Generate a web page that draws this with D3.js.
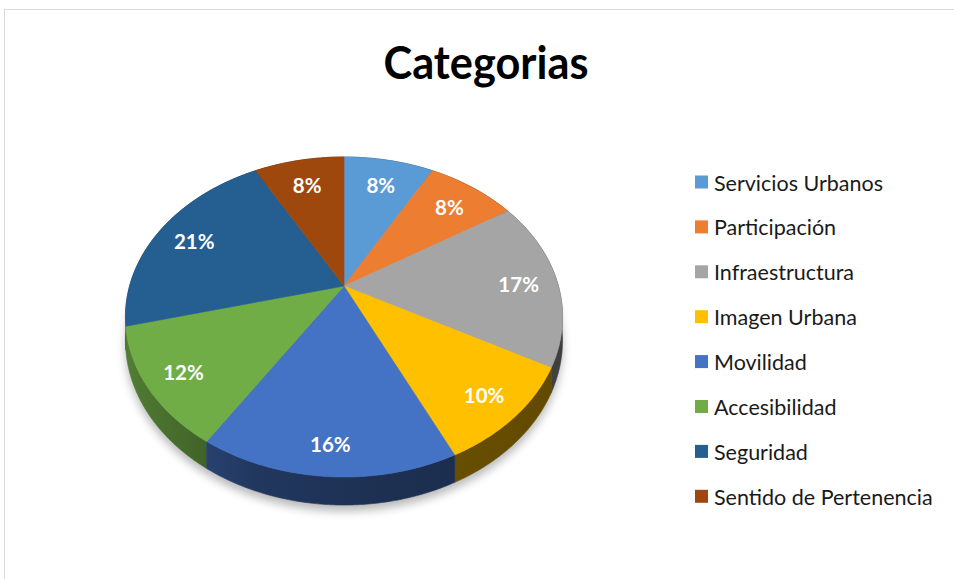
<!DOCTYPE html>
<html><head><meta charset="utf-8">
<script src="https://cdn.jsdelivr.net/npm/d3@7"></script>
<style>html,body{margin:0;padding:0;background:#fff;}svg{display:block;}</style>
</head><body>
<svg id="c" width="954" height="579"></svg>
<script>
const categories = ["Servicios Urbanos","Participación","Infraestructura","Imagen Urbana","Movilidad","Accesibilidad","Seguridad","Sentido de Pertenencia"];
const values = [8, 8, 17, 10, 16, 12, 21, 8];
const colors = ["#5B9BD5","#ED7D31","#A5A5A5","#FFC000","#4472C4","#70AD47","#255E91","#9E480E"];
const title = "Categorias";

const W = 954, H = 579;
const svg = d3.select("#c");

// frame
svg.append("rect").attr("x",4.5).attr("y",9.5).attr("width",980).attr("height",600)
  .attr("fill","#fff").attr("stroke","#d9d9d9").attr("stroke-width",1);

svg.append("text").attr("x",486).attr("y",79).attr("text-anchor","middle")
  .attr("font-family","Lato, 'Open Sans', sans-serif").attr("font-weight","bold")
  .attr("font-size",45).attr("fill","#000").attr("textLength",205).attr("lengthAdjust","spacingAndGlyphs")
  .text(title);

// perspective projection of the pie disk
const cx = 344, cy = 286, A = 214.4, B = 154, k = 0.1937, dep = 22.6;
function proj(theta, r, h) {
  const u = r * Math.sin(theta), v = -r * Math.cos(theta);
  const w = 1 - k * v;
  return [cx + A * u / w, cy + (B * v + h) / w];
}
const pie = d3.pie().sort(null).value(d => d)(values);
const line = d3.line();
function arcPts(a0, a1, h) {
  const n = Math.max(2, Math.ceil((a1 - a0) / 0.01));
  return d3.range(n + 1).map(i => proj(a0 + (a1 - a0) * i / n, 1, h));
}

const defs = svg.append("defs");
const blur = defs.append("filter").attr("id","sh").attr("x","-20%").attr("y","-20%").attr("width","140%").attr("height","140%");
blur.append("feGaussianBlur").attr("stdDeviation",5);

// shadow
const full = arcPts(0, 2*Math.PI, dep);
svg.append("path").attr("d", line(full) + "Z").attr("fill","#000").attr("opacity",0.28)
  .attr("filter","url(#sh)").attr("transform","translate(0,6)");

// side gradients
pie.forEach((d, i) => {
  const c = d3.rgb(colors[i]);
  const g = defs.append("linearGradient").attr("id","sg"+i).attr("gradientUnits","userSpaceOnUse")
    .attr("x1", cx - A*1.02).attr("x2", cx + A*1.02).attr("y1",0).attr("y2",0);
  [[0,0.72],[0.3,0.48],[0.6,0.42],[1,0.38]].forEach(([o,f]) => {
    g.append("stop").attr("offset", o).attr("stop-color", d3.rgb(c.r*f, c.g*f, c.b*f).formatHex());
  });
});

// walls, back to front
const gW = svg.append("g");
const order = pie.map((d,i)=>i).sort((a,b)=>{
  const ma = (pie[a].startAngle+pie[a].endAngle)/2, mb = (pie[b].startAngle+pie[b].endAngle)/2;
  return Math.cos(mb) - Math.cos(ma);
});
order.forEach(i => {
  const d = pie[i];
  const top = arcPts(d.startAngle, d.endAngle, 0);
  const bot = arcPts(d.startAngle, d.endAngle, dep).reverse();
  gW.append("path").attr("d", line(top.concat(bot)) + "Z").attr("fill","url(#sg"+i+")")
    .attr("stroke","url(#sg"+i+")").attr("stroke-width",0.6);
});

// top faces
const gT = svg.append("g");
pie.forEach((d, i) => {
  const pts = [proj(0,0,0)].concat(arcPts(d.startAngle, d.endAngle, 0));
  gT.append("path").attr("d", line(pts) + "Z").attr("fill", colors[i])
    .attr("stroke", colors[i]).attr("stroke-width",0.6);
});

// labels
const gL = svg.append("g");
pie.forEach((d, i) => {
  const m = (d.startAngle + d.endAngle) / 2;
  const rim = proj(m, 1, 0), c0 = proj(0,0,0);
  const f = 0.82;
  gL.append("text").attr("x", c0[0] + (rim[0]-c0[0])*f).attr("y", c0[1] + (rim[1]-c0[1])*f + 2)
    .attr("text-anchor","middle").attr("dominant-baseline","central")
    .attr("font-family","Lato, 'Open Sans', sans-serif").attr("font-weight","bold")
    .attr("font-size",20.5).attr("fill","#fff").text(values[i] + "%");
});

// legend
const lg = svg.append("g");
categories.forEach((c, i) => {
  const y = 182 + i * 44.9;
  lg.append("rect").attr("x",695).attr("y",y-6.5).attr("width",13).attr("height",13).attr("fill",colors[i]);
  lg.append("text").attr("x",714).attr("y",y+0.5).attr("dominant-baseline","central")
    .attr("font-family","Lato, 'Open Sans', sans-serif").attr("font-size",21.5).attr("fill","#1a1a1a").text(c);
});
</script>
</body></html>
